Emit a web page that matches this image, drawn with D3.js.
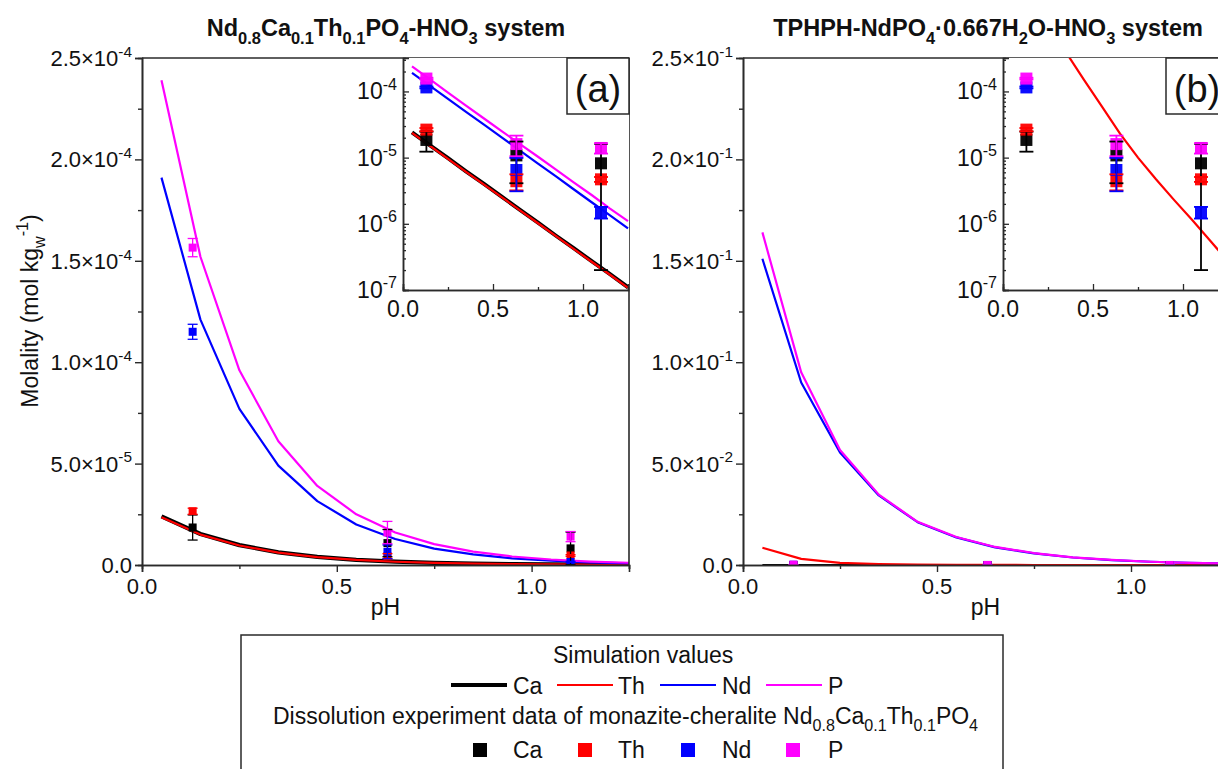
<!DOCTYPE html>
<html><head><meta charset="utf-8">
<script src="https://cdn.jsdelivr.net/npm/d3@7"></script>
<style>
body{margin:0;background:#fff}
text{font-family:"Liberation Sans",Arial,sans-serif;fill:#111}
</style>
</head><body>
<svg id="c" width="1218" height="769"></svg>
<script>
// ---------------- DATA ----------------
const simPH = [0.05,0.15,0.25,0.35,0.45,0.55,0.65,0.75,0.85,0.95,1.05,1.15,1.25];
// (a) Nd0.8Ca0.1Th0.1PO4-HNO3 system simulation
const simA_Ca = [2.4e-5,1.53e-5,9.8e-6,6.2e-6,4.0e-6,2.55e-6,1.63e-6,1.04e-6,6.6e-7,4.25e-7,2.7e-7,1.73e-7,1.1e-7];
const simA_Th = [2.36e-5,1.5e-5,9.6e-6,6.1e-6,3.9e-6,2.5e-6,1.6e-6,1.02e-6,6.5e-7,4.15e-7,2.65e-7,1.7e-7,1.08e-7];
const simA_Nd = [1.91e-4,1.21e-4,7.7e-5,4.9e-5,3.15e-5,2.0e-5,1.28e-5,8.1e-6,5.2e-6,3.3e-6,2.1e-6,1.34e-6,8.5e-7];
const simA_P  = [2.39e-4,1.52e-4,9.6e-5,6.1e-5,3.9e-5,2.5e-5,1.6e-5,1.03e-5,6.6e-6,4.2e-6,2.7e-6,1.7e-6,1.1e-6];
// (b) TPHPH-NdPO4·0.667H2O-HNO3 system simulation
const simB_Ca = [0,0,0,0,0,0,0,0,0,0,0,0,0];
const simB_Th = [8.5e-3,3.0e-3,1.05e-3,3.9e-4,1.5e-4,5.9e-5,2.3e-5,1.0e-5,4.7e-6,2.3e-6,1.15e-6,5.6e-7,2.7e-7];
const simB_Nd = [0.151,0.090,0.0555,0.0343,0.0211,0.0136,0.0087,0.0057,0.0037,0.0024,0.0016,0.0010,0.0007];
const simB_P  = [0.164,0.095,0.0567,0.0347,0.0213,0.0138,0.0089,0.0059,0.0038,0.0025,0.0016,0.0010,0.0007];
// dissolution experiment data
const expPH = [0.13,0.63,1.1];
const exp_Ca = [1.85e-5,1.08e-5,8.2e-6];
const err_Ca = [6.2e-6,6.7e-6,8.0e-6];
const exp_Th = [2.65e-5,4.4e-6,4.7e-6];
const err_Th = [1.5e-6,1.2e-6,4e-7];
const exp_Nd = [1.15e-4,6.5e-6,1.5e-6];
const err_Nd = [3.7e-6,3.4e-6,3e-7];
const exp_P  = [1.565e-4,1.6e-5,1.4e-5];
const err_P  = [4.5e-6,5.5e-6,2.5e-6];
// ticks
const xTicks = [0,0.5,1.0];
const xTickLabels = ["0.0","0.5","1.0"];
const xMinor = [0.25,0.75,1.25];
const yTicksA = [0,5e-5,1e-4,1.5e-4,2e-4,2.5e-4];
const yTickLabelsA = ["0.0","5.0×10^{-5}","1.0×10^{-4}","1.5×10^{-4}","2.0×10^{-4}","2.5×10^{-4}"];
const yTicksB = [0,0.05,0.1,0.15,0.2,0.25];
const yTickLabelsB = ["0.0","5.0×10^{-2}","1.0×10^{-1}","1.5×10^{-1}","2.0×10^{-1}","2.5×10^{-1}"];
const logTicks = [1e-7,1e-6,1e-5,1e-4];
const logTickLabels = ["10^{-7}","10^{-6}","10^{-5}","10^{-4}"];
const seriesNames = ["Ca","Th","Nd","P"];
const seriesColors = ["#000000","#ff0000","#0000ff","#ff00ff"];

// ---------------- HELPERS ----------------
const svg = d3.select('#c');
const AX = '#2a2a2a';
function rich(t, str, fs){
  const parts = str.split(/(_\{[^}]*\}|\^\{[^}]*\})/).filter(s=>s.length);
  let off = 0;
  parts.forEach(p=>{
    let target=0, txt=p, size=fs;
    if(p.startsWith('_{')){target=fs*0.32; txt=p.slice(2,-1); size=fs*0.7;}
    else if(p.startsWith('^{')){target=-fs*0.42; txt=p.slice(2,-1); size=fs*0.7;}
    t.append('tspan').attr('dy', (target-off).toFixed(2)).attr('font-size', size).text(txt);
    off = target;
  });
  return t;
}
function label(g, x, y, str, fs, anchor, weight){
  const t = g.append('text').attr('x',x).attr('y',y).attr('font-size',fs)
    .attr('text-anchor',anchor||'start').attr('font-weight',weight||'normal');
  return rich(t, str, fs);
}
let clipId = 0;
function clip(g, x, y, w, h){
  const id = 'clip'+(clipId++);
  svg.append('clipPath').attr('id',id).append('rect').attr('x',x).attr('y',y).attr('width',w).attr('height',h);
  return g.append('g').attr('clip-path',`url(#${id})`);
}

function drawPanel(cfg){
  const g = svg.append('g');
  const x = d3.scaleLinear().domain([0,1.25]).range([cfg.x0,cfg.x1]);
  const y = d3.scaleLinear().domain([0,cfg.ymax]).range([565,58]);
  const sims = cfg.sims;
  const exps = [[exp_Ca,err_Ca],[exp_Th,err_Th],[exp_Nd,err_Nd],[exp_P,err_P]];

  // main plot content
  const pc = clip(g, cfg.x0, 58, cfg.x1-cfg.x0, 565-58);
  const line = d3.line().x((d,i)=>x(simPH[i])).y(d=>y(d));
  pc.append('path').attr('d',line(sims[0])).attr('fill','none').attr('stroke','#000').attr('stroke-width',cfg.caWidth).attr('stroke-linejoin','round');
  [1,2,3].forEach(k=>{
    pc.append('path').attr('d',line(sims[k])).attr('fill','none').attr('stroke',seriesColors[k]).attr('stroke-width',2.2).attr('stroke-linejoin','round');
  });
  const ms = 8;
  exps.forEach(([v,e],k)=>{
    v.forEach((val,i)=>{
      pc.append('rect').attr('x',x(expPH[i])-ms/2).attr('y',y(val)-ms/2).attr('width',ms).attr('height',ms).attr('fill',seriesColors[k]);
    });
  });
  exps.forEach(([v,e],k)=>{
    v.forEach((val,i)=>{
      const cx = x(expPH[i]), y1=y(val+e[i]), y2=y(val-e[i]);
      const c = seriesColors[k];
      pc.append('line').attr('x1',cx).attr('x2',cx).attr('y1',y1).attr('y2',y2).attr('stroke',c).attr('stroke-width',1.3);
      [y1,y2].forEach(yy=>pc.append('line').attr('x1',cx-5).attr('x2',cx+5).attr('y1',yy).attr('y2',yy).attr('stroke',c).attr('stroke-width',1.3));
    });
  });

  // axes
  g.append('g').attr('transform',`translate(${cfg.x0},0)`)
    .call(d3.axisLeft(y).tickValues(cfg.yTicks).tickSize(7).tickFormat(''));
  g.append('g').attr('transform',`translate(${cfg.x0},0)`)
    .call(d3.axisLeft(y).tickValues(cfg.yTicks.slice(0,-1).map((v,i)=>(v+cfg.yTicks[i+1])/2)).tickSize(4).tickFormat(''));
  g.append('g').attr('transform','translate(0,565)')
    .call(d3.axisBottom(x).tickValues(xTicks).tickSize(7).tickFormat(''));
  g.append('g').attr('transform','translate(0,565)')
    .call(d3.axisBottom(x).tickValues(xMinor).tickSize(4).tickFormat(''));
  g.selectAll('.domain').attr('stroke',AX).attr('stroke-width',1.6);
  g.selectAll('.tick line').attr('stroke',AX).attr('stroke-width',1.4);
  g.append('line').attr('x1',cfg.x0).attr('x2',cfg.x1).attr('y1',58).attr('y2',58).attr('stroke',AX).attr('stroke-width',1.6);
  g.append('line').attr('x1',cfg.x1).attr('x2',cfg.x1).attr('y1',58).attr('y2',565).attr('stroke',AX).attr('stroke-width',1.6);

  cfg.yTicks.forEach((v,i)=>label(g, cfg.x0-10, y(v)+8, cfg.yLabels[i], 22, 'end'));
  xTicks.forEach((v,i)=>label(g, x(v), 594, xTickLabels[i], 22, 'middle'));
  label(g, (cfg.x0+cfg.x1)/2, 615, 'pH', 23, 'middle');
  label(g, cfg.titleX, 36, cfg.title, 23.5, 'middle', 'bold');

  // ---------- inset ----------
  const ix0 = cfg.ix0, ix1 = cfg.x1, iy0 = 58, iy1 = 290;
  const xi = d3.scaleLinear().domain([0,1.25]).range([ix0, ix0+1.25*180]);
  const yi = d3.scaleLog().domain([1e-7,3.2e-4]).range([iy1,iy0]);
  g.append('rect').attr('x',ix0).attr('y',iy0).attr('width',ix1-ix0).attr('height',iy1-iy0).attr('fill','#fff');
  const ic = clip(g, ix0, iy0, ix1-ix0, iy1-iy0);
  const lline = d3.line().defined(d=>d>0).x((d,i)=>xi(simPH[i])).y(d=>yi(d));
  if(cfg.insetLines){
    ic.append('path').attr('d',lline(sims[0])).attr('fill','none').attr('stroke','#000').attr('stroke-width',4).attr('stroke-linejoin','round');
  }
  [1,2,3].forEach(k=>{
    ic.append('path').attr('d',lline(sims[k])).attr('fill','none').attr('stroke',seriesColors[k]).attr('stroke-width',2.2);
  });
  const ims = 12;
  exps.forEach(([v,e],k)=>{
    v.forEach((val,i)=>{
      ic.append('rect').attr('x',xi(expPH[i])-ims/2).attr('y',yi(val)-ims/2).attr('width',ims).attr('height',ims).attr('fill',seriesColors[k]).attr('opacity',0.95);
    });
  });
  exps.forEach(([v,e],k)=>{
    v.forEach((val,i)=>{
      const cx = xi(expPH[i]), y1=yi(val+e[i]), y2=yi(Math.max(val-e[i],1e-9));
      const c = seriesColors[k];
      ic.append('line').attr('x1',cx).attr('x2',cx).attr('y1',y1).attr('y2',y2).attr('stroke',c).attr('stroke-width',1.8);
      [y1,y2].forEach(yy=>ic.append('line').attr('x1',cx-7).attr('x2',cx+7).attr('y1',yy).attr('y2',yy).attr('stroke',c).attr('stroke-width',1.8));
    });
  });
  const minorLog = [];
  [-7,-6,-5,-4].forEach(p=>{ for(let m=2;m<=9;m++){ const v=m*Math.pow(10,p); if(v<=3.2e-4) minorLog.push(v);} });
  const ia = g.append('g');
  ia.append('g').attr('transform',`translate(${ix0},0)`).call(d3.axisRight(yi).tickValues(logTicks).tickSize(6).tickFormat(''));
  ia.append('g').attr('transform',`translate(${ix0},0)`).call(d3.axisRight(yi).tickValues(minorLog).tickSize(3).tickFormat(''));
  ia.append('g').attr('transform',`translate(0,${iy1})`).call(d3.axisTop(xi).tickValues(xTicks).tickSize(6).tickFormat(''));
  ia.append('g').attr('transform',`translate(0,${iy1})`).call(d3.axisTop(xi).tickValues([0.25,0.75]).tickSize(3).tickFormat(''));
  ia.selectAll('.domain').attr('stroke',AX).attr('stroke-width',1.5);
  ia.selectAll('.tick line').attr('stroke',AX).attr('stroke-width',1.3);
  logTicks.forEach((v,i)=>label(g, ix0-6, yi(v)+8, logTickLabels[i], 23, 'end'));
  xTicks.forEach((v,i)=>label(g, xi(v), iy1+27, xTickLabels[i], 23, 'middle'));
  g.append('rect').attr('x',cfg.bx).attr('y',58).attr('width',62).attr('height',56).attr('fill','#fff').attr('stroke',AX).attr('stroke-width',1.5);
  label(g, cfg.bx+31, 102, cfg.letter, 38, 'middle');
}

drawPanel({x0:142, x1:629, ymax:2.5e-4, yTicks:yTicksA, yLabels:yTickLabelsA,
  sims:[simA_Ca,simA_Th,simA_Nd,simA_P], caWidth:4.2, ix0:403, bx:567, letter:'(a)', insetLines:true,
  titleX:386, title:'Nd_{0.8}Ca_{0.1}Th_{0.1}PO_{4}-HNO_{3} system'});
drawPanel({x0:743, x1:1228, ymax:0.25, yTicks:yTicksB, yLabels:yTickLabelsB,
  sims:[simB_Ca,simB_Th,simB_Nd,simB_P], caWidth:2.2, ix0:1003, bx:1166, letter:'(b)', insetLines:false,
  titleX:988, title:'TPHPH-NdPO_{4}·0.667H_{2}O-HNO_{3} system'});

const yt = svg.append('text').attr('transform','translate(38,311) rotate(-90)').attr('font-size',23).attr('text-anchor','middle');
rich(yt, 'Molality (mol kg_{w}^{-1})', 23);

// ---------------- LEGEND ----------------
const lg = svg.append('g');
lg.append('rect').attr('x',241).attr('y',635).attr('width',762).attr('height',150).attr('fill','none').attr('stroke',AX).attr('stroke-width',1.5);
label(lg, 553, 663, 'Simulation values', 23, 'start');
const lineX = [451,557,660,766];
const lineTextX = [513,618,722,828];
seriesNames.forEach((n,k)=>{
  lg.append('line').attr('x1',lineX[k]).attr('x2',lineX[k]+56).attr('y1',685).attr('y2',685)
    .attr('stroke',seriesColors[k]).attr('stroke-width',k===0?4:2.2);
  label(lg, lineTextX[k], 694, n, 23, 'start');
});
label(lg, 273, 724, 'Dissolution experiment data of monazite-cheralite Nd_{0.8}Ca_{0.1}Th_{0.1}PO_{4}', 23, 'start');
const sqX = [480,585,688,793];
seriesNames.forEach((n,k)=>{
  lg.append('rect').attr('x',sqX[k]-7).attr('y',743).attr('width',14).attr('height',14).attr('fill',seriesColors[k]);
  label(lg, lineTextX[k], 758, n, 23, 'start');
});
</script>
</body></html>
